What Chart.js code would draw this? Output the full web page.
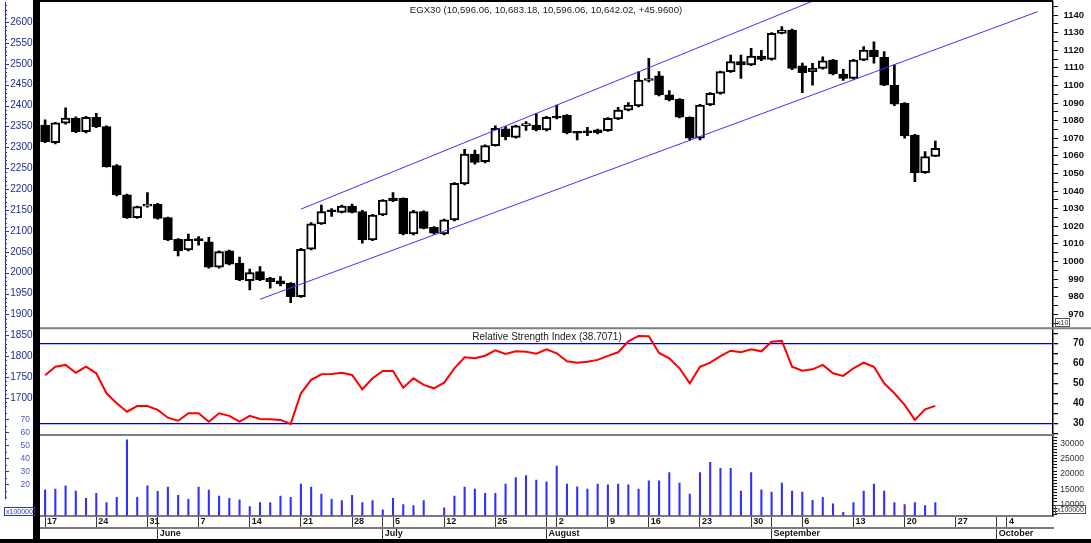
<!DOCTYPE html>
<html>
<head>
<meta charset="utf-8">
<title>EGX30 daily</title>
<script src="https://cdn.jsdelivr.net/npm/chart.js@4.4.1/dist/chart.umd.min.js"></script>
<style>
  html, body { margin: 0; padding: 0; background: #fff; overflow: hidden; }
  #wrap { position: relative; width: 1091px; height: 543px; overflow: hidden; font-family: "Liberation Sans", Arial, sans-serif; }
  #chart { position: absolute; left: 0; top: 0; }
  .caption { position: absolute; color: #1a1a1a; white-space: nowrap; transform: translateX(-50%); line-height: 12px; }
  .mult { position: absolute; border: 1px solid #555; font-size: 7px; line-height: 7px; padding: 0 1px; color: #333; background: transparent; }
</style>
</head>
<body>
<div id="wrap">
  <canvas id="chart" width="1091" height="543"></canvas>
  <div class="caption" style="left:546px; top:4px; font-size:9.6px;">EGX30 (10,596.06, 10,683.18, 10,596.06, 10,642.02, +45.9600)</div>
  <div class="caption" style="left:547px; top:331px; font-size:10px;">Relative Strength Index (38.7071)</div>
  <div class="mult" style="left:1055px; top:318px;">x10</div>
  <div class="mult" style="left:1055px; top:505px;">x100000</div>
  <div class="mult" style="left:4px; top:507px; color:#2b3aa8; border-color:#2b3aa8;">x100000</div>
</div>

<script>
// ---------------------------------------------------------
// DATA
// ---------------------------------------------------------

// one category per trading session (plus empty sessions to the right)
const dates = [
  'May 17', 'May 18', 'May 19', 'May 20', 'May 21',
  'May 24', 'May 25', 'May 26', 'May 27', 'May 28',
  'May 31', 'Jun 1', 'Jun 2', 'Jun 3', 'Jun 4',
  'Jun 7', 'Jun 8', 'Jun 9', 'Jun 10', 'Jun 11',
  'Jun 14', 'Jun 15', 'Jun 16', 'Jun 17', 'Jun 18',
  'Jun 21', 'Jun 22', 'Jun 23', 'Jun 24', 'Jun 25',
  'Jun 28', 'Jun 29', 'Jun 30', 'Jul 1',
  'Jul 5', 'Jul 6', 'Jul 7', 'Jul 8', 'Jul 9',
  'Jul 12', 'Jul 13', 'Jul 14', 'Jul 15', 'Jul 16',
  'Jul 25', 'Jul 26', 'Jul 27', 'Jul 28', 'Jul 29', 'Aug 1',
  'Aug 2', 'Aug 3', 'Aug 4', 'Aug 5', 'Aug 6',
  'Aug 9', 'Aug 10', 'Aug 11', 'Aug 12',
  'Aug 16', 'Aug 17', 'Aug 18', 'Aug 19', 'Aug 20',
  'Aug 23', 'Aug 24', 'Aug 25', 'Aug 26', 'Aug 27',
  'Aug 30', 'Aug 31', 'Sep 1', 'Sep 2', 'Sep 3',
  'Sep 6', 'Sep 7', 'Sep 8', 'Sep 9', 'Sep 10',
  'Sep 13', 'Sep 14', 'Sep 15', 'Sep 16', 'Sep 17',
  'Sep 20', 'Sep 21', 'Sep 22', 'Sep 23', 'Sep 24',
  'Sep 27', 'Sep 28', 'Sep 29', 'Sep 30', 'Oct 1',
  'Oct 4', 'Oct 5', 'Oct 6', 'Oct 7', 'Oct 8'
];

// sessions that carry a day label on the date axis
const weekStarts = ['May 17', 'May 24', 'May 31', 'Jun 7', 'Jun 14', 'Jun 21', 'Jun 28', 'Jul 5', 'Jul 12',
  'Jul 25', 'Aug 2', 'Aug 9', 'Aug 16', 'Aug 23', 'Aug 30', 'Sep 6', 'Sep 13', 'Sep 20', 'Sep 27', 'Oct 4'];
const monthNames = { Jun: 'June', Jul: 'July', Aug: 'August', Sep: 'September', Oct: 'October' };

const open = [10775, 10675, 10785, 10813, 10737, 10819, 10766, 10544, 10378, 10249,
  10314, 10325, 10249, 10126, 10065, 10128, 10112, 9967, 10060, 9990,
  9891, 9942, 9904, 9890, 9876, 9800, 10069, 10213, 10288, 10279,
  10315, 10283, 10122, 10264, 10358, 10359, 10156, 10283, 10194, 10156,
  10236, 10440, 10610, 10567, 10658, 10753, 10705, 10772, 10775, 10747,
  10825, 10832, 10732, 10733, 10747, 10743, 10810, 10860, 10883, 11028,
  11055, 10946, 10921, 10819, 10700, 10889, 10955, 11078, 11135, 11116,
  11167, 11148, 11296, 11315, 11112, 11078, 11097, 11144, 11065, 11040,
  11144, 11201, 11160, 11002, 10898, 10718, 10504, 10596.06];

const high = [10804, 10790, 10873, 10822, 10825, 10842, 10770, 10550, 10383, 10315,
  10391, 10330, 10252, 10130, 10156, 10141, 10137, 10060, 10065, 10024,
  9956, 9970, 9910, 9914, 9880, 10075, 10220, 10320, 10300, 10320,
  10326, 10290, 10268, 10352, 10391, 10362, 10290, 10288, 10198, 10240,
  10448, 10637, 10633, 10662, 10770, 10766, 10775, 10795, 10842, 10825,
  10889, 10835, 10737, 10762, 10752, 10817, 10876, 10903, 11078, 11154,
  11078, 10970, 10925, 10822, 10893, 10960, 11082, 11173, 11173, 11211,
  11199, 11300, 11334, 11320, 11127, 11126, 11163, 11148, 11091, 11148,
  11220, 11248, 11192, 11116, 10902, 10722, 10624, 10683.18];

const low = [10675, 10668, 10780, 10731, 10730, 10760, 10535, 10372, 10245, 10245,
  10308, 10240, 10118, 10031, 10060, 10093, 9962, 9962, 9980, 9890,
  9838, 9890, 9848, 9861, 9766, 9795, 10065, 10210, 10255, 10275,
  10275, 10103, 10118, 10260, 10340, 10150, 10150, 10185, 10155, 10150,
  10230, 10435, 10552, 10560, 10655, 10690, 10700, 10745, 10742, 10742,
  10810, 10725, 10690, 10715, 10725, 10738, 10805, 10855, 10878, 11020,
  10940, 10912, 10815, 10690, 10690, 10885, 10950, 11074, 11040, 11112,
  11140, 11143, 11292, 11090, 10959, 11002, 11092, 11060, 11028, 11035,
  11140, 11126, 10998, 10885, 10700, 10453, 10500, 10596.06];

const close = [10680, 10788, 10815, 10737, 10819, 10766, 10538, 10378, 10249, 10311,
  10318, 10245, 10122, 10060, 10126, 10118, 9967, 10056, 9984, 9895,
  9936, 9895, 9885, 9872, 9800, 10069, 10213, 10283, 10282, 10315,
  10279, 10122, 10264, 10349, 10345, 10156, 10283, 10188, 10160, 10236,
  10444, 10610, 10563, 10658, 10756, 10709, 10770, 10778, 10747, 10819,
  10815, 10731, 10728, 10730, 10731, 10813, 10860, 10889, 11031, 11036,
  10946, 10917, 10819, 10700, 10889, 10955, 11078, 11135, 11116, 11167,
  11148, 11296, 11315, 11097, 11072, 11097, 11140, 11065, 11040, 11144,
  11201, 11163, 11002, 10894, 10713, 10504, 10596, 10642.02];

const rsi = [54, 58.3, 59.2, 55.3, 58.3, 55, 45, 40, 35.8, 38.6,
  38.6, 36.7, 32.8, 31.3, 35, 35, 30.8, 35, 33.7, 30.8,
  33.7, 32.2, 32, 31.7, 29.7, 45, 51.7, 54.5, 54.7, 55.3,
  54.2, 47, 52.5, 56.2, 56.2, 47.8, 52.5, 49.2, 47.5, 50.3,
  57.5, 63, 62.5, 63.8, 66.5, 64.7, 66, 65.8, 64.8, 67,
  65, 61, 60.3, 60.8, 61.7, 63.7, 65.5, 71, 73.7, 73.5,
  65.2, 62.5, 57.5, 50, 58.3, 60.3, 63.6, 66.3, 65.5, 67,
  66, 70.8, 71.2, 58.3, 56.3, 57, 59.2, 55, 53.7, 57.5,
  60.3, 58.3, 50, 45, 39.2, 31.7, 37, 38.7071];

const volume = [14900, 15200, 16200, 14500, 12200, 13800, 10800, 12500, 31100, 12500,
  16200, 14400, 15800, 13100, 11800, 15800, 14800, 12900, 12200, 11700,
  9500, 10800, 10800, 12900, 12500, 16800, 15800, 13500, 11800, 11400,
  13100, 10800, 11400, 8400, 12200, 10100, 9800, 11400, null, 9100,
  12900, 15800, 15200, 13800, 13800, 16800, 18900, 19500, 18100, 17500,
  22600, 16800, 15900, 15200, 16800, 16500, 16800, 16500, 15200, 17800,
  17800, 20500, 17100, 13500, 20500, 23800, 21900, 21900, 14500, 20500,
  14900, 14200, 17100, 14500, 14200, 11500, 12500, 10400, 7600, 10800,
  14500, 16800, 14500, 10800, 10100, 10800, 9800, 10800];

// trend channel anchors: [session, index level]
const upperChannel = [['Jun 21', 10297], ['Sep 14', 11597]];
const lowerChannel = [['Jun 15', 9785], ['Oct 7', 11419]];

// axis labels
const priceTickLabels = [970, 980, 990, 1000, 1010, 1020, 1030, 1040, 1050, 1060,
  1070, 1080, 1090, 1100, 1110, 1120, 1130, 1140];
const rsiTickLabels = [30, 40, 50, 60, 70];
const rsiBands = [30, 70];
const volumeTickLabels = [10000, 15000, 20000, 25000, 30000];
const leftTickLabels = [1700, 1750, 1800, 1850, 1900, 1950, 2000, 2050, 2100, 2150,
  2200, 2250, 2300, 2350, 2400, 2450, 2500, 2550, 2600];
const leftLowTickLabels = [20, 30, 40, 50, 60, 70];

// ---------------------------------------------------------
// HELPERS
// ---------------------------------------------------------

function stepTicks(from, to, step) {
  const t = [];
  for (let v = from; v <= to + 1e-9; v += step) t.push({ value: +v.toFixed(4) });
  return t;
}

function isWeekStart(i) { return weekStarts.includes(dates[i]); }
function isMonthStart(i) {
  return i > 0 && dates[i].split(' ')[0] !== dates[i - 1].split(' ')[0];
}

// pin an axis box to a fixed size and stop it from padding the chart area
function pinBox(size) {
  return s => {
    if (s.isHorizontal()) s.height = size; else s.width = size;
    s.paddingTop = 0; s.paddingBottom = 0; s.paddingLeft = 0; s.paddingRight = 0;
  };
}

const bodies = open.map((o, i) => [o, close[i]]);
const wicks = low.map((l, i) => [l, high[i]]);

// frame: black left bar, top rule, bottom band, panel separators
const framePlugin = {
  id: 'frame',
  afterDraw(chart) {
    const { ctx, chartArea, scales } = chart;
    ctx.save();
    ctx.fillStyle = '#000';
    ctx.fillRect(33, 0, 7, chart.height);
    ctx.fillRect(33, 0, chartArea.right - 33, 2);
    ctx.fillRect(0, chart.height - 4, chart.width, 4);

    ctx.strokeStyle = '#808080';
    ctx.lineWidth = 2;
    ctx.beginPath();
    ctx.moveTo(chartArea.left, scales.yRsi.top);
    ctx.lineTo(chart.width, scales.yRsi.top);
    ctx.moveTo(chartArea.left, scales.yVol.top);
    ctx.lineTo(chartArea.right, scales.yVol.top);
    ctx.stroke();
    ctx.restore();
  }
};

// thin ruler at the far left with small tick marks of the left scales
const leftRulerPlugin = {
  id: 'leftRuler',
  afterDraw(chart) {
    const { ctx } = chart;
    const upper = chart.scales.yL1;
    const lower = chart.scales.yL2;
    const stopAt = lower.bottom - 16;
    ctx.save();
    ctx.strokeStyle = '#2b3aa8';
    ctx.lineWidth = 1;
    ctx.beginPath();
    ctx.moveTo(5.5, upper.top);
    ctx.lineTo(5.5, stopAt);
    [[upper, leftTickLabels], [lower, leftLowTickLabels]].forEach(([scale, labels]) => {
      scale.ticks.forEach((t, i) => {
        const y = Math.round(scale.getPixelForTick(i)) + 0.5;
        if (y < scale.top || y > Math.min(scale.bottom, stopAt)) return;
        const len = labels.includes(t.value) ? 4 : 2;
        ctx.moveTo(5, y);
        ctx.lineTo(5 + len, y);
      });
    });
    ctx.stroke();
    ctx.restore();
  }
};

// ---------------------------------------------------------
// CHART
// ---------------------------------------------------------

Chart.defaults.font.family = "'Liberation Sans', Arial, sans-serif";

new Chart(document.getElementById('chart'), {
  type: 'bar',
  data: {
    labels: dates,
    datasets: [
      {
        type: 'line', label: 'Upper channel',
        data: upperChannel.map(([x, y]) => ({ x, y })),
        yAxisID: 'yPrice', xAxisID: 'x',
        borderColor: '#3535ff', borderWidth: 1, pointRadius: 0, order: 0
      },
      {
        type: 'line', label: 'Lower channel',
        data: lowerChannel.map(([x, y]) => ({ x, y })),
        yAxisID: 'yPrice', xAxisID: 'x',
        borderColor: '#3535ff', borderWidth: 1, pointRadius: 0, order: 0
      },
      {
        label: 'Body', data: bodies, yAxisID: 'yPrice', xAxisID: 'x',
        backgroundColor: bodies.map(([o, c]) => (c >= o ? '#ffffff' : '#000000')),
        borderColor: '#000', borderWidth: 2, borderSkipped: false,
        barThickness: 9, minBarLength: 2, grouped: false, clip: 0, order: 1
      },
      {
        label: 'Wick', data: wicks, yAxisID: 'yPrice', xAxisID: 'x',
        backgroundColor: '#000', barThickness: 2, grouped: false, clip: 0, order: 2
      },
      {
        type: 'line', label: 'RSI', data: rsi, yAxisID: 'yRsi', xAxisID: 'x',
        borderColor: '#ff0000', borderWidth: 2, pointRadius: 0, tension: 0, order: 0
      },
      {
        label: 'Volume', data: volume, yAxisID: 'yVol', xAxisID: 'x',
        backgroundColor: '#2f2fff', barThickness: 1.4, grouped: false, clip: 0, order: 3
      }
    ]
  },
  options: {
    responsive: false,
    animation: false,
    devicePixelRatio: 1,
    layout: { padding: { top: 2, bottom: 4, left: 0, right: 7 } },
    plugins: { legend: { display: false }, tooltip: { enabled: false }, title: { display: false } },
    scales: {
      x: {
        type: 'category', position: 'bottom', weight: 0, offset: true,
        grid: {
          display: true, drawOnChartArea: false, drawTicks: true, tickLength: 12.2, offset: false,
          tickWidth: 1, tickColor: c => (isWeekStart(c.index) || isMonthStart(c.index)) ? '#3a3a3a' : 'rgba(0,0,0,0)'
        },
        border: { display: true, color: '#7a7a7a', width: 2 },
        ticks: {
          autoSkip: false, maxRotation: 0, minRotation: 0, align: 'start', labelOffset: 2, padding: -11.5,
          color: '#111', font: { size: 9, weight: 'bold' },
          callback: (v, i) => isWeekStart(i) ? dates[i].split(' ')[1] : ''
        },
        afterFit: pinBox(12.2)
      },
      xMonth: {
        type: 'category', position: 'bottom', weight: 1, offset: true,
        grid: {
          display: true, drawOnChartArea: false, drawTicks: true, tickLength: 11.3, offset: false,
          tickWidth: 1, tickColor: c => isMonthStart(c.index) ? '#3a3a3a' : 'rgba(0,0,0,0)'
        },
        border: { display: true, color: '#7a7a7a', width: 2 },
        ticks: {
          autoSkip: false, maxRotation: 0, minRotation: 0, align: 'start', labelOffset: 2, padding: -10.6,
          color: '#111', font: { size: 9, weight: 'bold' },
          callback: (v, i) => isMonthStart(i) ? monthNames[dates[i].split(' ')[0]] : ''
        },
        afterFit: pinBox(11.3)
      },
      yL1: {
        type: 'linear', position: 'left', stack: 'left', stackWeight: 406, weight: 2,
        min: 1676, max: 2648,
        afterBuildTicks: s => { s.ticks = stepTicks(1680, 2640, 10); },
        grid: { display: false, drawTicks: false }, border: { display: false },
        ticks: {
          autoSkip: false, padding: 7.5, color: '#1c2b8f',
          font: { size: 10 },
          callback: v => leftTickLabels.includes(v) ? String(v) : ''
        },
        afterFit: pinBox(40)
      },
      yL2: {
        type: 'linear', position: 'left', stack: 'left', stackWeight: 107.5, weight: 1,
        min: -4, max: 78.7,
        afterBuildTicks: s => { s.ticks = stepTicks(0, 75, 5); },
        grid: { display: false, drawTicks: false }, border: { display: false },
        ticks: {
          autoSkip: false, padding: 10, color: '#4a5bc8',
          font: { size: 8.5 },
          callback: v => leftLowTickLabels.includes(v) ? String(v) : ''
        },
        afterFit: pinBox(40)
      },
      yPrice: {
        type: 'linear', position: 'right', stack: 'right', stackWeight: 326.3, weight: 0,
        min: 9620, max: 11474,
        afterBuildTicks: s => { s.ticks = stepTicks(9650, 11450, 50); },
        grid: { drawOnChartArea: false, drawTicks: true, tickLength: 5, tickColor: '#000' },
        border: { display: true, color: '#000', width: 1.5 },
        ticks: {
          autoSkip: false, crossAlign: 'far', padding: 1, color: '#111',
          font: { size: 9.5, weight: 'bold' },
          callback: v => priceTickLabels.includes(v / 10) ? String(v / 10) : ''
        },
        afterFit: pinBox(31)
      },
      yRsi: {
        type: 'linear', position: 'right', stack: 'right', stackWeight: 106.7, weight: 1,
        min: 24.15, max: 77.5,
        afterBuildTicks: s => { s.ticks = stepTicks(25, 75, 5); },
        grid: {
          drawOnChartArea: true, drawTicks: true, tickLength: 5, tickColor: '#000', lineWidth: 1.3,
          color: c => (c.tick && rsiBands.includes(c.tick.value)) ? '#0000cc' : 'rgba(0,0,0,0)'
        },
        border: { display: true, color: '#000', width: 1.5 },
        ticks: {
          autoSkip: false, crossAlign: 'far', padding: 6, color: '#111',
          font: { size: 10, weight: 'bold' },
          callback: v => rsiTickLabels.includes(v) ? String(v) : ''
        },
        afterFit: pinBox(31)
      },
      yVol: {
        type: 'linear', position: 'right', stack: 'right', stackWeight: 80.5, weight: 2,
        min: 6597, max: 32690,
        afterBuildTicks: s => { s.ticks = stepTicks(7000, 32000, 1000); },
        grid: { drawOnChartArea: false, drawTicks: true, tickLength: 4, tickColor: '#000' },
        border: { display: true, color: '#000', width: 1.5 },
        ticks: {
          autoSkip: false, crossAlign: 'far', padding: 1, color: '#333',
          font: { size: 8.5 },
          callback: v => volumeTickLabels.includes(v) ? String(v) : ''
        },
        afterFit: pinBox(31)
      }
    }
  },
  plugins: [framePlugin, leftRulerPlugin]
});
</script>
</body>
</html>
